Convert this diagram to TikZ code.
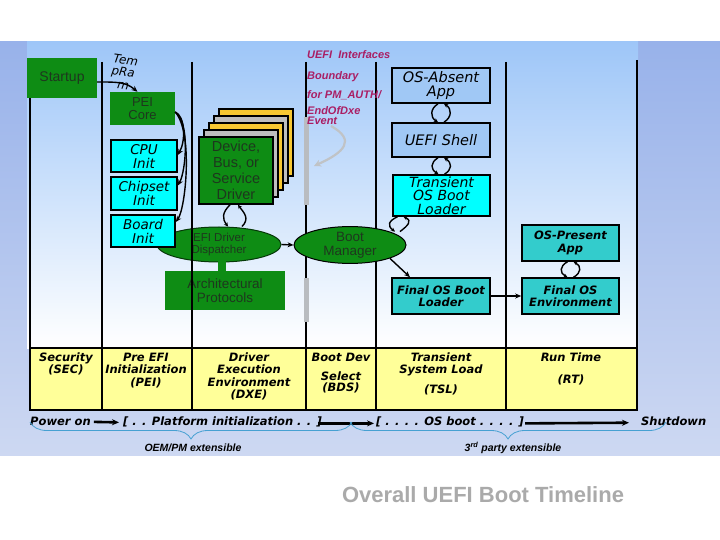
\documentclass[tikz,border=0pt]{standalone}
\usepackage{fontspec}
\setmainfont{DejaVu Sans}
\newfontfamily\arf{Liberation Sans}
\usetikzlibrary{arrows.meta,decorations.pathreplacing,shapes.geometric}
\definecolor{grn}{RGB}{14,140,20}
\definecolor{gtxt}{RGB}{30,55,30}
\definecolor{cyn}{RGB}{0,255,255}
\definecolor{lblue}{RGB}{160,200,245}
\definecolor{teal2}{RGB}{51,204,204}
\definecolor{tyel}{RGB}{255,255,153}
\definecolor{dyel}{RGB}{248,200,50}
\definecolor{dgray}{RGB}{190,190,190}
\definecolor{mag}{RGB}{170,30,100}
\definecolor{brc}{RGB}{70,160,210}
\definecolor{ttl}{RGB}{170,170,170}
\definecolor{bgtop}{RGB}{152,178,234}
\definecolor{bgbot}{RGB}{205,216,242}
\definecolor{pntop}{RGB}{158,198,248}
\definecolor{gbar}{RGB}{185,188,192}
\begin{document}
\begin{tikzpicture}[x=1pt,y=-1pt,
  every node/.style={inner sep=0pt},
  gbox/.style={fill=grn, text=gtxt, align=center},
  cbox/.style={draw=black, line width=1.6pt, fill=cyn, align=center,
     font=\itshape\fontsize{13.5}{14}\selectfont},
  lbbox/.style={draw=black, line width=1.6pt, fill=lblue, align=center,
     font=\itshape\fontsize{14.5}{14.5}\selectfont},
  tlbox/.style={draw=black, line width=1.6pt, fill=teal2, align=center,
     font=\bfseries\itshape\fontsize{11.5}{12.5}\selectfont},
  dcard/.style={draw=black, line width=1.6pt, minimum width=74pt, minimum height=67pt},
  gell/.style={ellipse, fill=grn, draw=black!60!grn, line width=1pt, text=gtxt, align=center},
  tbltxt/.style={anchor=north, align=center, font=\bfseries\itshape\fontsize{11.5}{12.5}\selectfont},
  magtxt/.style={anchor=base west, text=mag, font=\arf\bfseries\itshape\fontsize{11}{11}\selectfont},
  arr/.style={-{Stealth[length=6pt,width=5pt]}, line width=1.4pt},
  loop/.style={-{Stealth[length=4pt,width=4pt]}, line width=1.4pt},
  vline/.style={line width=2pt},
  bigarr/.style={-{Stealth[length=7pt,width=6pt]}, line width=2.6pt},
  brace/.style={decorate, decoration={brace, mirror, amplitude=17pt}, draw=brc, line width=0.8pt}
]
\useasboundingbox (0,0) rectangle (720,540);
\fill[white] (0,0) rectangle (720,540);
% backgrounds
\shade[top color=bgtop, bottom color=bgbot] (0,42) rectangle (720,455);
\shade[top color=pntop, bottom color=white] (27,42) rectangle (638,348);

% vertical lines (except x=192)
\draw[vline] (30,98) -- (30,410);
\foreach \xx in {102,306,376,506} {\draw[vline] (\xx,62) -- (\xx,410);}
\draw[vline] (637,60) -- (637,410);

% gray bars
\fill[gbar] (303.5,117) rectangle (308.5,205);
\fill[gbar] (303.5,278) rectangle (308.5,322);

% table
\fill[tyel] (30,348) rectangle (637,410);
\draw[line width=2.4pt] (30,348) rectangle (637,410);
\foreach \xx in {102,192,306,376,506} {\draw[line width=2.2pt] (\xx,348) -- (\xx,410);}

\node[tbltxt] (sec) at (66,352.5) {Security\\(SEC)};
\node[tbltxt] (peit) at (146,352.5) {Pre EFI\\Initialization\\(PEI)};
\node[tbltxt] (dxe) at (249,352.5) {Driver\\Execution\\Environment\\(DXE)};
\node[tbltxt] (bds) at (341,352.5) {Boot Dev\\[7pt]Select\\[-2pt](BDS)};
\node[tbltxt] (tsl) at (441,352.5) {Transient\\System Load\\[7pt](TSL)};
\node[tbltxt] (rt) at (571,352.5) {Run Time\\[10pt](RT)};

% top magenta labels
\node[magtxt] (uefiif) at (307,59) {UEFI\ \ Interfaces};
\node[magtxt] (bnd) at (307,80) {Boundary};
\node[magtxt] (forpm) at (307,99) {for PM\_AUTH/};
\node[magtxt, align=left] (eod) at (307,115) {EndOfDxe};
\node[magtxt] (evt) at (307,125) {Event};
\draw[gbar!90!white, line width=2.2pt, -{Stealth[length=7pt,width=7pt]}]
  (331,126) .. controls (356,140) and (345,152) .. (314,166);

% Startup and PEI
\node[gbox, minimum width=70pt, minimum height=40pt, font=\arf\fontsize{14}{14}\selectfont] (startup) at (62,78) {Startup};
\node[gbox, minimum width=65pt, minimum height=33pt, font=\arf\fontsize{13}{13}\selectfont] (pei) at (142.5,108.5) {PEI\\Core};
\node[rotate=-8, align=left, font=\itshape\fontsize{12}{12.5}\selectfont] (tempram) at (124,72) {Tem\\pRa\\\ \ m};

% Dispatcher (behind board init)
\node[gell, minimum width=124pt, minimum height=35pt, font=\arf\fontsize{11.5}{12}\selectfont] (disp) at (219,244.5) {EFI Driver\\Dispatcher};
\fill[grn] (218,261) rectangle (226,272);
\node[gbox, minimum width=120pt, minimum height=39pt, font=\arf\fontsize{13.5}{14}\selectfont] (arch) at (225,290.5) {Architectural\\Protocols};

\node[cbox, minimum width=66pt, minimum height=32pt] (cpu) at (144,156) {CPU\\Init};
\node[cbox, minimum width=66pt, minimum height=33pt] (chip) at (144,193.5) {Chipset\\Init};
\node[cbox, minimum width=64pt, minimum height=32pt] (board) at (143,231) {Board\\Init};

% device stack
\node[dcard, fill=dyel] (d4) at (256,142.5) {};
\node[dcard, fill=dgray] (d3) at (251,149.5) {};
\node[dcard, fill=dyel] (d2) at (246,156.5) {};
\node[dcard, fill=dgray] (d1) at (241,163.5) {};
\node[dcard, fill=grn, text=gtxt, align=center, font=\arf\fontsize{14.5}{16}\selectfont] (dev) at (236,170.5) {Device,\\Bus, or\\Service\\Driver};

% line x=192 on top
\draw[vline] (192,62) -- (192,348);

% Boot manager and OS side
\node[gell, minimum width=112pt, minimum height=36pt, draw=black, font=\arf\fontsize{13.5}{14}\selectfont] (bm) at (350,245) {Boot\\Manager};
\node[lbbox, minimum width=98pt, minimum height=35pt] (osabs) at (441,85.5) {OS-Absent\\App};
\node[lbbox, minimum width=98pt, minimum height=34pt] (shell) at (441,140) {UEFI Shell};
\node[cbox, minimum width=97pt, minimum height=41pt, font=\itshape\fontsize{14}{13.5}\selectfont] (tosl) at (441.5,195.5) {Transient\\OS Boot\\Loader};
\node[tlbox, minimum width=98pt, minimum height=36pt] (fosl) at (441,296) {Final OS Boot\\Loader};
\node[tlbox, minimum width=97pt, minimum height=36pt] (osp) at (570.5,243) {OS-Present\\App};
\node[tlbox, minimum width=97pt, minimum height=36pt] (fose) at (570.5,296) {Final OS\\Environment};

% connectors
\draw[arr] ([yshift=-4pt]startup.east) .. controls +(20,0) and +(-12,-10) .. ([xshift=-5pt]pei.north);
\draw[arr] ([yshift=-3.5pt]pei.east) .. controls +(10,4) and +(8,-14) .. ([yshift=1pt]cpu.east);
\draw[arr] ([yshift=-3.5pt]pei.east) .. controls +(15,10) and +(8,-14) .. ([yshift=8pt]chip.east);
\draw[arr] ([yshift=-3.5pt]pei.east) .. controls +(18,20) and +(10,-14) .. ([yshift=9pt]board.east);
\draw[arr] (disp.east) -- (bm.west);
\draw[arr] (bm.south east) -- ([xshift=-31pt]fosl.north);
\draw[arr] (fosl.east) -- (fose.west);

% loops
\draw[loop] ([xshift=-3pt]osabs.south) .. controls +(-8,5) and +(-8,-5) .. ([xshift=-3pt]shell.north);
\draw[loop] ([xshift=3pt]shell.north) .. controls +(8,-5) and +(8,5) .. ([xshift=3pt]osabs.south);
\draw[loop] ([xshift=-3pt]shell.south) .. controls +(-8,5) and +(-8,-5) .. ([xshift=-3pt]tosl.north);
\draw[loop] ([xshift=3pt]tosl.north) .. controls +(8,-5) and +(8,5) .. ([xshift=3pt]shell.south);
\draw[loop] ([xshift=-44pt]tosl.south) .. controls +(-9,4) and +(-8,-6) .. ([xshift=5pt]bm.north east);
\draw[loop] ([xshift=10pt]bm.north east) .. controls +(8,-6) and +(9,4) .. ([xshift=-38pt]tosl.south);
\draw[loop] ([xshift=-3pt]osp.south) .. controls +(-8,4) and +(-8,-4) .. ([xshift=-3pt]fose.north);
\draw[loop] ([xshift=3pt]fose.north) .. controls +(8,-4) and +(8,4) .. ([xshift=3pt]osp.south);
\draw[loop] ([xshift=-6pt]dev.south) .. controls +(-8,8) and +(-6,-8) .. ([xshift=-8pt]disp.north -| dev.south);
\draw[loop] ([xshift=6pt]disp.north -| dev.south) .. controls +(8,-8) and +(6,8) .. ([xshift=2pt]dev.south);

% bottom timeline
\node[anchor=base west, font=\bfseries\itshape\fontsize{11.5}{12}\selectfont] (pon) at (30,425) {Power on};
\node[anchor=base west, font=\bfseries\itshape\fontsize{11.5}{12}\selectfont] (plat) at (123,425) {[ . . Platform initialization . . ]};
\node[anchor=base west, font=\bfseries\itshape\fontsize{11.5}{12}\selectfont] (osb) at (376,425) {[ . . . . OS boot . . . . ]};
\node[anchor=base west, font=\bfseries\itshape\fontsize{11.5}{12}\selectfont] (shut) at (641,425) {Shutdown};
\draw[bigarr] ([xshift=3pt,yshift=-1pt]pon.east) -- ([xshift=-4pt,yshift=-1pt]plat.west);
\draw[bigarr] ([xshift=-4pt,yshift=-2pt]plat.east) -- ([xshift=-2pt,yshift=-2pt]osb.west);
\draw[bigarr] ([xshift=1pt,yshift=-2pt]osb.east) -- ([xshift=-12pt,yshift=-2pt]shut.west);

\draw[brace] (30,422) -- (352,422);
\draw[brace] (350,422) -- (666,422);
\node[font=\arf\bfseries\itshape\fontsize{10.5}{11}\selectfont] (oem) at (193,448) {OEM/PM extensible};
\node[font=\arf\bfseries\itshape\fontsize{10.5}{11}\selectfont] (third) at (513,448) {3\textsuperscript{rd} party extensible};

\node[text=ttl, font=\arf\bfseries\fontsize{22}{22}\selectfont] (title) at (483,495) {Overall UEFI Boot Timeline};
\end{tikzpicture}
\end{document}
